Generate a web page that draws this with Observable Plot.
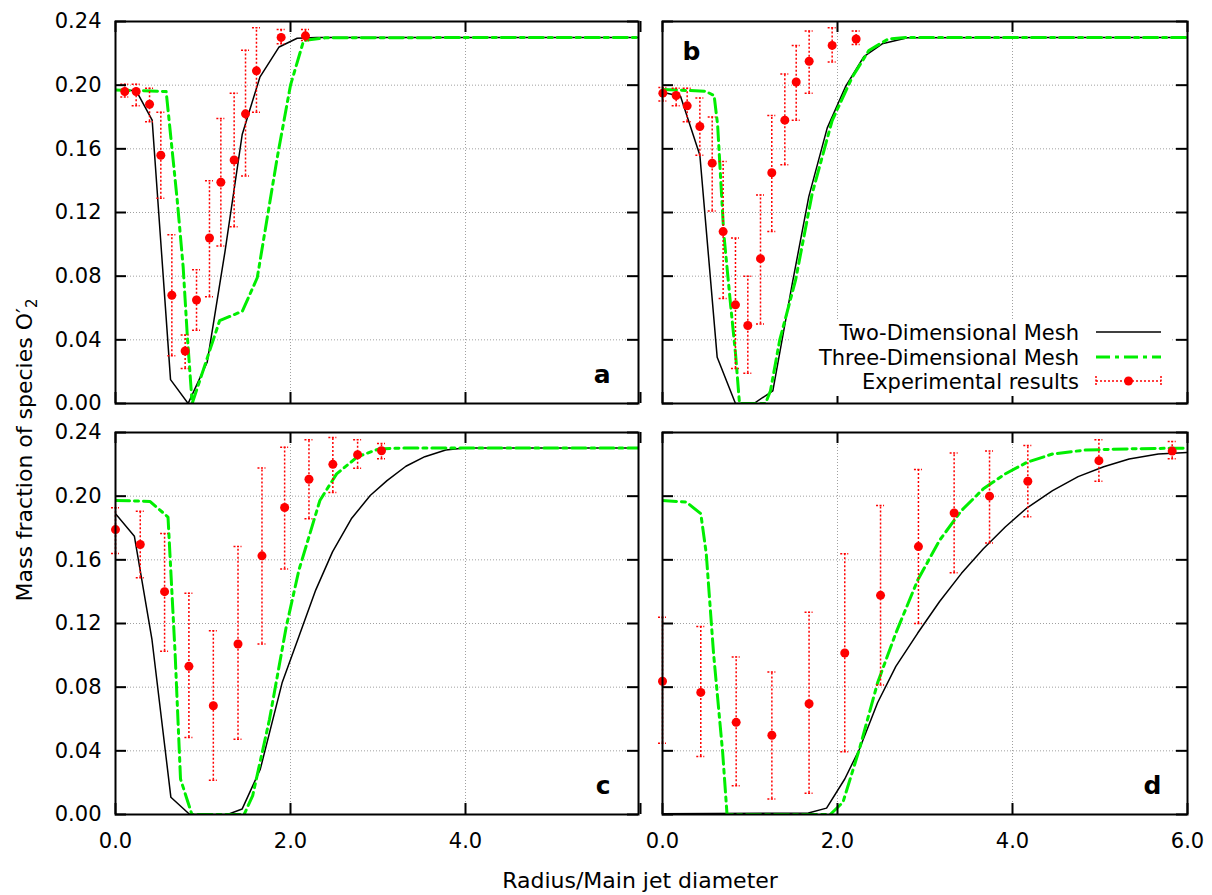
<!DOCTYPE html>
<html><head><meta charset="utf-8">
<script src="https://cdn.jsdelivr.net/npm/d3@7"></script>
<script src="https://cdn.jsdelivr.net/npm/@observablehq/plot@0.6"></script>
<style>
body{margin:0;background:#fff;}
#chart{position:relative;width:1212px;height:895px;font-family:"DejaVu Sans",sans-serif;}
#chart > svg{position:absolute;}
</style></head><body><div id="chart"></div>
<script>
// ---- ticks ----
const xTicks = [0, 2, 4, 6];
const xGrid = [2, 4];
const yTicks = [0, 0.04, 0.08, 0.12, 0.16, 0.20, 0.24];
const yGrid = [0.04, 0.08, 0.12, 0.16, 0.20];
const xLabelsC = [0, 2, 4];
const xLabelsD = [0, 2, 4, 6];
const seriesNames = ["Two-Dimensional Mesh", "Three-Dimensional Mesh", "Experimental results"];

// ---- panel a ----
const a2dX = [0, 0.236, 0.419, 0.629, 0.83, 1.048, 1.25, 1.448, 1.65, 1.87, 2.076, 2.3, 6];
const a2dY = [0.197, 0.1966, 0.178, 0.015, 0.0, 0.026, 0.095, 0.169, 0.205, 0.224, 0.2295, 0.230, 0.230];
const a3dX = [0, 0.579, 0.629, 0.705, 0.773, 0.819, 0.876, 1.19, 1.45, 1.62, 1.85, 2.0, 2.15, 2.4, 6];
const a3dY = [0.197, 0.196, 0.169, 0.128, 0.086, 0.044, 0.0, 0.052, 0.058, 0.079, 0.155, 0.200, 0.228, 0.2298, 0.230];
const aExpX = [0.106, 0.236, 0.389, 0.518, 0.644, 0.796, 0.926, 1.074, 1.204, 1.356, 1.486, 1.611, 1.893, 2.171];
const aExpY = [0.196, 0.196, 0.188, 0.156, 0.068, 0.033, 0.065, 0.104, 0.139, 0.153, 0.182, 0.209, 0.230, 0.231];
const aExpLo = [0.1925, 0.187, 0.177, 0.129, 0.030, 0.022, 0.046, 0.067, 0.099, 0.111, 0.143, 0.183, 0.226, 0.228];
const aExpHi = [0.2006, 0.2006, 0.198, 0.183, 0.106, 0.043, 0.084, 0.140, 0.179, 0.195, 0.222, 0.236, 0.235, 0.235];

// ---- panel b ----
const b2dX = [0, 0.206, 0.427, 0.625, 0.834, 1.044, 1.261, 1.482, 1.672, 1.882, 2.091, 2.301, 2.511, 2.8, 6];
const b2dY = [0.1956, 0.193, 0.156, 0.029, 0.0, 0.0, 0.008, 0.075, 0.130, 0.173, 0.199, 0.218, 0.226, 0.2298, 0.230];
const b3dX = [0, 0.49, 0.59, 0.63, 0.70, 0.78, 0.835, 0.88, 1.177, 1.234, 1.34, 1.52, 1.71, 1.939, 2.168, 2.358, 2.58, 2.8, 6];
const b3dY = [0.1973, 0.1962, 0.1935, 0.175, 0.107, 0.061, 0.031, 0.0, 0.0, 0.008, 0.040, 0.0773, 0.1317, 0.1778, 0.205, 0.2218, 0.229, 0.230, 0.230];
const bExpX = [0.004, 0.156, 0.282, 0.427, 0.568, 0.693, 0.834, 0.975, 1.12, 1.249, 1.398, 1.528, 1.676, 1.939, 2.213];
const bExpY = [0.195, 0.1935, 0.187, 0.174, 0.151, 0.108, 0.062, 0.049, 0.091, 0.145, 0.178, 0.202, 0.215, 0.225, 0.229];
const bExpLo = [0.190, 0.187, 0.177, 0.156, 0.121, 0.066, 0.022, 0.019, 0.050, 0.108, 0.150, 0.178, 0.195, 0.2145, 0.2255];
const bExpHi = [0.1985, 0.198, 0.198, 0.192, 0.180, 0.152, 0.104, 0.080, 0.131, 0.181, 0.207, 0.225, 0.234, 0.236, 0.234];

// ---- panel c ----
const c2dX = [0, 0.216, 0.417, 0.633, 0.849, 1.28, 1.448, 1.655, 1.904, 2.096, 2.288, 2.48, 2.695, 2.911, 3.103, 3.319, 3.535, 3.774, 3.99, 6];
const c2dY = [0.189, 0.1748, 0.1098, 0.0108, 0, 0, 0.0035, 0.0285, 0.0827, 0.1119, 0.141, 0.165, 0.1858, 0.2004, 0.2098, 0.2188, 0.2248, 0.229, 0.2302, 0.2302];
const c3dX = [0, 0.393, 0.6, 0.681, 0.743, 0.873, 1.47, 1.568, 1.76, 1.952, 2.096, 2.336, 2.527, 2.767, 3.007, 3.247, 6];
const c3dY = [0.1973, 0.1967, 0.1869, 0.1015, 0.0223, 0.0, 0.0, 0.0119, 0.0598, 0.1181, 0.1535, 0.1973, 0.214, 0.2248, 0.2296, 0.2302, 0.2302];
const cExpX = [0, 0.283, 0.561, 0.839, 1.118, 1.4, 1.674, 1.933, 2.211, 2.484, 2.767, 3.04];
const cExpY = [0.179, 0.1696, 0.14, 0.0931, 0.0683, 0.1071, 0.1625, 0.1929, 0.2106, 0.22, 0.226, 0.2285];
const cExpLo = [0.164, 0.1488, 0.1025, 0.0483, 0.0215, 0.0473, 0.1071, 0.1542, 0.1858, 0.2023, 0.2175, 0.2235];
const cExpHi = [0.1927, 0.1906, 0.1765, 0.139, 0.1154, 0.1683, 0.2177, 0.2308, 0.2354, 0.2369, 0.2354, 0.2331];

// ---- panel d ----
const d2dX = [0, 1.667, 1.875, 2.083, 2.25, 2.458, 2.667, 2.917, 3.167, 3.417, 3.667, 3.917, 4.167, 4.458, 4.75, 5.042, 5.333, 5.667, 6];
const d2dY = [0.0005, 0.001, 0.004, 0.0223, 0.041, 0.0702, 0.0931, 0.114, 0.1338, 0.1515, 0.167, 0.1806, 0.1927, 0.2035, 0.2123, 0.2185, 0.2233, 0.2265, 0.2275];
const d3dX = [0, 0.271, 0.4375, 0.5, 0.583, 0.6875, 0.7375, 1.917, 2.0625, 2.25, 2.458, 2.667, 2.917, 3.167, 3.417, 3.667, 3.917, 4.167, 4.458, 4.833, 5.375, 6];
const d3dY = [0.1973, 0.1963, 0.189, 0.164, 0.1015, 0.039, 0.0, 0.0, 0.0077, 0.041, 0.0827, 0.114, 0.1473, 0.1723, 0.191, 0.2046, 0.214, 0.2213, 0.2265, 0.229, 0.2298, 0.2302];
const dExpX = [0, 0.4375, 0.842, 1.25, 1.675, 2.083, 2.492, 2.925, 3.333, 3.7375, 4.175, 4.9875, 5.825];
const dExpY = [0.0837, 0.0767, 0.0579, 0.0498, 0.0696, 0.1015, 0.1377, 0.1683, 0.1894, 0.2, 0.2094, 0.2223, 0.2283];
const dExpLo = [0.0448, 0.0365, 0.0181, 0.0098, 0.0133, 0.0394, 0.0813, 0.12, 0.1519, 0.1706, 0.1871, 0.2094, 0.2235];
const dExpHi = [0.124, 0.1181, 0.099, 0.0896, 0.1271, 0.1638, 0.1942, 0.2167, 0.2271, 0.2283, 0.2319, 0.2354, 0.2344];

const RED = "#ff0000", GREEN = "#00ee00", GRID = "#a0a0a0";
const DASHDOT = "14,5,4,5";

function panel(cfg) {
  const {x2, y2, x3, y3, ex, ey, elo, ehi, w, h, ml, mr, mt, mb, showY, xLabels, letter, lAnchor, ldx, ldy, left, top} = cfg;
  const pw = w - ml - mr, ph = h - mt - mb;
  const xmax = pw / 87.5;
  const l2 = x2.map((x, i) => ({x, y: y2[i]}));
  const l3 = x3.map((x, i) => ({x, y: y3[i]}));
  const exp = ex.map((x, i) => ({x, y: ey[i], lo: elo[i], hi: ehi[i]}));
  const cap = {x1: "x", x2: "x", insetLeft: -4, insetRight: -4, stroke: RED, strokeWidth: 1.5, strokeDasharray: "2,1.5"};
  const marks = [
    Plot.gridX(xGrid, {stroke: GRID, strokeOpacity: 1, strokeWidth: 1, strokeDasharray: "1,2"}),
    Plot.gridY(yGrid, {stroke: GRID, strokeOpacity: 1, strokeWidth: 1, strokeDasharray: "1,2"}),
    Plot.line(l2, {x: "x", y: "y", stroke: "black", strokeWidth: 1.5, clip: true}),
    Plot.line(l3, {x: "x", y: "y", stroke: GREEN, strokeWidth: 3, strokeDasharray: DASHDOT, clip: true}),
    Plot.ruleX(exp, {x: "x", y1: "lo", y2: "hi", stroke: RED, strokeWidth: 1.5, strokeDasharray: "2,2"}),
    Plot.ruleY(exp, {y: "hi", ...cap}),
    Plot.ruleY(exp, {y: "lo", ...cap}),
    Plot.dot(exp, {x: "x", y: "y", r: 4.5, fill: RED}),
    Plot.tickX(xTicks, {x: d => d, insetTop: ph - 11, stroke: "black", strokeWidth: 2}),
    Plot.tickX(xTicks, {x: d => d, insetBottom: ph - 11, stroke: "black", strokeWidth: 2}),
    Plot.tickY(yTicks, {y: d => d, insetRight: pw - 11, stroke: "black", strokeWidth: 2}),
    Plot.tickY(yTicks, {y: d => d, insetLeft: pw - 11, stroke: "black", strokeWidth: 2}),
    Plot.frame({stroke: "black", strokeWidth: 2}),
    Plot.text([letter], {text: d => d, frameAnchor: lAnchor, dx: ldx, dy: ldy, fontWeight: "bold", fontSize: 25, fill: "black"})
  ];
  if (showY) marks.push(Plot.axisY({ticks: yTicks, tickSize: 0, tickPadding: 14, tickFormat: d => d.toFixed(2), label: null}));
  if (xLabels) marks.push(Plot.axisX({ticks: xLabels, tickSize: 0, tickPadding: 19, tickFormat: d => d.toFixed(1), label: null}));
  const svg = Plot.plot({
    width: w, height: h,
    marginLeft: ml, marginRight: mr, marginTop: mt, marginBottom: mb,
    x: {domain: [0, xmax], ...(xLabels ? {} : {axis: null})},
    y: {domain: [0, 0.24], ...(showY ? {} : {axis: null})},
    style: {fontFamily: "DejaVu Sans", fontSize: "21px", background: "none", overflow: "visible", color: "black"},
    marks
  });
  svg.style.left = left + "px";
  svg.style.top = top + "px";
  svg.style.maxWidth = "none";
  return svg;
}

const chart = document.getElementById("chart");
chart.appendChild(panel({x2: a2dX, y2: a2dY, x3: a3dX, y3: a3dY, ex: aExpX, ey: aExpY, elo: aExpLo, ehi: aExpHi,
  w: 650, h: 425, ml: 115, mr: 12, mt: 21, mb: 22, showY: true, xLabels: null,
  letter: "a", lAnchor: "bottom-right", ldx: -28, ldy: -21, left: 0, top: 0}));
chart.appendChild(panel({x2: b2dX, y2: b2dY, x3: b3dX, y3: b3dY, ex: bExpX, ey: bExpY, elo: bExpLo, ehi: bExpHi,
  w: 562, h: 425, ml: 12, mr: 25, mt: 21, mb: 22, showY: false, xLabels: null,
  letter: "b", lAnchor: "top-left", ldx: 20, ldy: 21, left: 650, top: 0}));
chart.appendChild(panel({x2: c2dX, y2: c2dY, x3: c3dX, y3: c3dY, ex: cExpX, ey: cExpY, elo: cExpLo, ehi: cExpHi,
  w: 650, h: 470, ml: 115, mr: 12, mt: 7, mb: 81, showY: true, xLabels: xLabelsC,
  letter: "c", lAnchor: "bottom-right", ldx: -28, ldy: -21, left: 0, top: 425}));
chart.appendChild(panel({x2: d2dX, y2: d2dY, x3: d3dX, y3: d3dY, ex: dExpX, ey: dExpY, elo: dExpLo, ehi: dExpHi,
  w: 562, h: 470, ml: 12, mr: 25, mt: 7, mb: 81, showY: false, xLabels: xLabelsD,
  letter: "d", lAnchor: "bottom-right", ldx: -26, ldy: -21, left: 650, top: 425}));

// ---- overlay: axis titles and legend ----
const ov = d3.create("svg").attr("width", 1212).attr("height", 895)
  .style("left", "0px").style("top", "0px").style("font-family", "DejaVu Sans").style("pointer-events", "none");
ov.append("text").attr("x", 640).attr("y", 888).attr("text-anchor", "middle").attr("font-size", 22)
  .text("Radius/Main jet diameter");
const yt = ov.append("text").attr("transform", "translate(32,450) rotate(-90)").attr("text-anchor", "middle").attr("font-size", 22);
yt.append("tspan").text("Mass fraction of species O′");
yt.append("tspan").attr("font-size", 15).attr("dy", 5).text("2");

const lg = ov.append("g").attr("transform", "translate(791,320)");
lg.append("rect").attr("width", 381).attr("height", 76).attr("fill", "white");
const rowsY = [12, 37, 61];
seriesNames.forEach((name, i) => {
  lg.append("text").attr("x", 288).attr("y", rowsY[i]).attr("dy", "0.36em").attr("text-anchor", "end")
    .attr("font-size", 21).text(name);
});
lg.append("line").attr("x1", 305).attr("x2", 370).attr("y1", rowsY[0]).attr("y2", rowsY[0]).attr("stroke", "black").attr("stroke-width", 1.5);
lg.append("line").attr("x1", 305).attr("x2", 370).attr("y1", rowsY[1]).attr("y2", rowsY[1]).attr("stroke", GREEN).attr("stroke-width", 3).attr("stroke-dasharray", DASHDOT);
lg.append("line").attr("x1", 305).attr("x2", 370).attr("y1", rowsY[2]).attr("y2", rowsY[2]).attr("stroke", RED).attr("stroke-width", 1.5).attr("stroke-dasharray", "2,2");
[305, 370].forEach(x => lg.append("line").attr("x1", x).attr("x2", x).attr("y1", rowsY[2] - 5).attr("y2", rowsY[2] + 5).attr("stroke", RED).attr("stroke-width", 1.5).attr("stroke-dasharray", "2,1.5"));
lg.append("circle").attr("cx", 337.5).attr("cy", rowsY[2]).attr("r", 4.5).attr("fill", RED);
chart.appendChild(ov.node());
</script></body></html>
